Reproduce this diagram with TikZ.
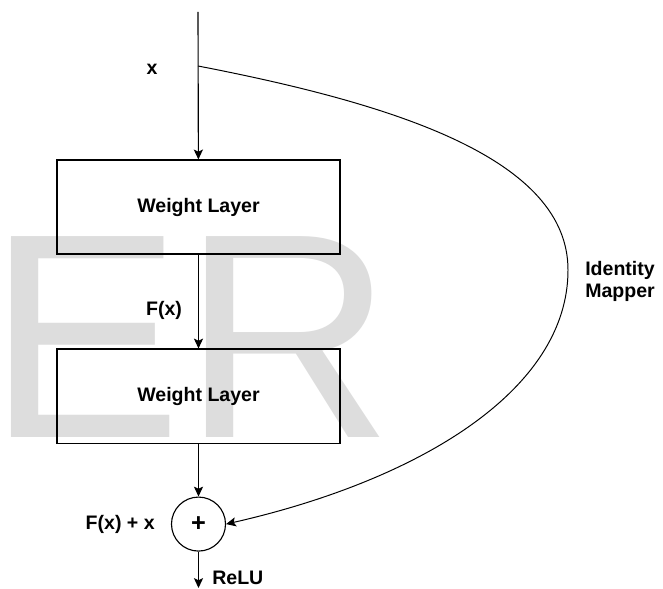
\documentclass[tikz,border=0pt]{standalone}
\usepackage{fontspec}
\setmainfont{Liberation Sans}
\usetikzlibrary{arrows.meta}
\definecolor{markgray}{HTML}{DDDDDD}

\begin{document}
\begin{tikzpicture}[x=0.025cm, y=-0.025cm, node distance=1cm,
    font=\fontsize{13.9}{15.6}\selectfont\bfseries,
    layer/.style={shape=rectangle, draw=black, line width=0.8pt, minimum width=7.075cm, minimum height=2.35cm},
    lbl/.style={inner sep=0pt},
    arr/.style={-{Stealth[length=7pt,width=6.5pt,inset=1.5pt]}, line width=0.8pt}]
    \useasboundingbox (0,0) rectangle (663,589);
    % watermark behind everything
    \node[anchor=base west, inner sep=0pt, text=markgray, font=\fontsize{207.7}{207.7}\selectfont] (mark) at (-13,437) {ER};

    \coordinate (top) at (198,12);
    \coordinate (split) at (198,66);
    \coordinate (bend) at (568,270);
    \coordinate (relu) at (198.5,588);
    \node[layer] (wl1) at (198.5,207) {Weight Layer};
    \node[layer] (wl2) [below of=wl1, node distance=4.725cm] {Weight Layer};
    \node[shape=circle, draw=black, line width=0.8pt, minimum size=1.35cm, inner sep=0pt] (sum) [below of=wl2, node distance=3.2cm] {\fontsize{18}{18}\selectfont +};

    % labels
    \node[lbl] (x) at (152,69) {x};
    \node[lbl] (fx) at (164,310) {F(x)};
    \node[lbl, anchor=east] (fxx) at (155,524) {F(x) + x};
    \node[lbl, anchor=west] (relulbl) at (212,578) {ReLU};
    \node[lbl, anchor=west, align=left] (idm) at (585,281) {Identity\\Mapper};

    \draw[arr] (top) -- (wl1);
    \draw[arr] (wl1) -- (wl2);
    \draw[arr] (wl2) -- (sum);
    \draw[arr] (sum) -- (relu);
    \draw[arr, line width=0.7pt] (split) .. controls (400,105) and (568,160) .. (bend)
        .. controls (568,390) and (420,480) .. (sum.east);
\end{tikzpicture}
\end{document}
